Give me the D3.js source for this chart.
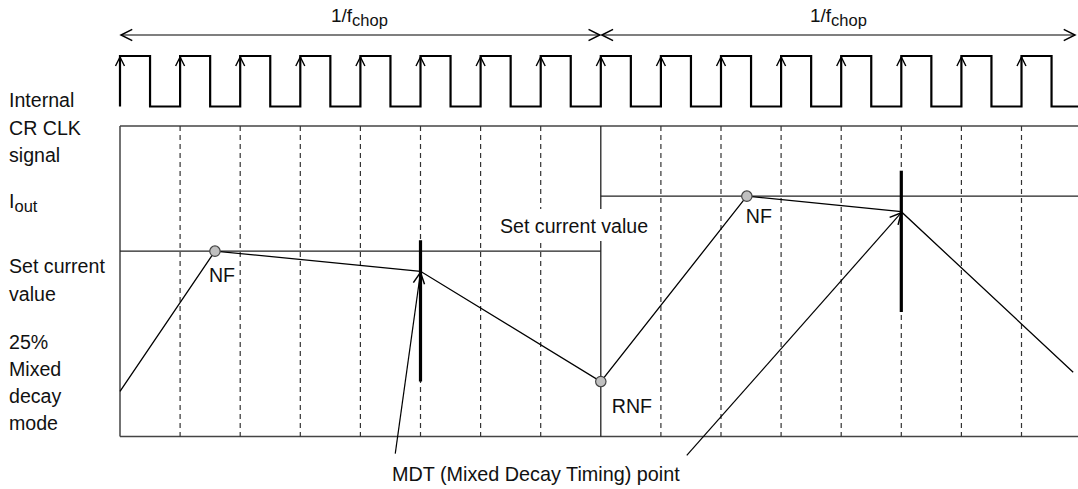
<!DOCTYPE html>
<html>
<head>
<meta charset="utf-8">
<script src="https://cdn.jsdelivr.net/npm/d3@7"></script>
<style>
  body { margin: 0; background: #fff; }
  svg text { font-family: "Liberation Sans", Arial, sans-serif; fill: #111; }
</style>
</head>
<body>
<div id="chart"></div>
<script>
// time in clock periods, current in arbitrary units (0 = bottom of frame, 100 = top)
const risingEdges = [0, 1, 2, 3, 4, 5, 6, 7, 8, 9, 10, 11, 12, 13, 14, 15]
const gridLines = [1, 2, 3, 4, 5, 6, 7, 9, 10, 11, 12, 13, 14, 15]
const chopBoundary = 8
const chopSpans = [[0, 8], [8, 16]]
const setCurrent = [
  { from: 0, to: 8, level: 59.7 },
  { from: 8, to: 16, level: 77.4 }
]
const currentWave = [
  { t: 0, i: 14.5 },
  { t: 1.58, i: 59.7 },
  { t: 5, i: 53.2 },
  { t: 8, i: 17.7 },
  { t: 10.43, i: 77.4 },
  { t: 13, i: 72.4 },
  { t: 15.86, i: 20.7 }
]
const noiseFilterPoints = [
  { t: 1.58, i: 59.7, label: 'NF', dx: -6, dy: 31 },
  { t: 8, i: 17.7, label: 'RNF', dx: 11, dy: 31 },
  { t: 10.43, i: 77.4, label: 'NF', dx: -1, dy: 27 }
]
const mdtBars = [
  { t: 5, top: 63.2, bottom: 17.7 },
  { t: 13, top: 85.6, bottom: 40.1 }
]
const mdtPointers = [
  { t0: 4.58, i0: -5.5, t1: 5, i1: 53.2 },
  { t0: 9.43, i0: -6.1, t1: 13, i1: 72.4 }
]
const leftLabels = [
  { text: 'Internal', y: 107 },
  { text: 'CR CLK', y: 135 },
  { text: 'signal', y: 162 },
  { text: 'I', sub: 'out', y: 208 },
  { text: 'Set current', y: 273 },
  { text: 'value', y: 301 },
  { text: '25%', y: 349 },
  { text: 'Mixed', y: 376 },
  { text: 'decay', y: 403 },
  { text: 'mode', y: 430 }
]

const W = 1078, H = 489
const svg = d3.select('#chart').append('svg')
  .attr('width', W).attr('height', H)

const x = d3.scaleLinear().domain([0, 16]).range([120, 1081.6])
const y = d3.scaleLinear().domain([0, 100]).range([436.5, 126])
const clk = d3.scaleLinear().domain([0, 1]).range([106.5, 56])

const defs = svg.append('defs')
defs.append('marker')
  .attr('id', 'arr')
  .attr('markerUnits', 'userSpaceOnUse')
  .attr('markerWidth', 20).attr('markerHeight', 20)
  .attr('viewBox', '-12 -8 16 16')
  .attr('refX', 0).attr('refY', 0)
  .attr('orient', 'auto-start-reverse')
  .append('path')
  .attr('d', 'M-9,-4.5 L0,0 L-9,4.5')
  .attr('fill', 'none').attr('stroke', '#000').attr('stroke-width', 1.2)

// frame
const frame = svg.append('g').attr('stroke', '#444').attr('stroke-width', 1.5)
frame.append('line').attr('x1', x(0)).attr('x2', W).attr('y1', y(100)).attr('y2', y(100))
frame.append('line').attr('x1', x(0)).attr('x2', W).attr('y1', y(0)).attr('y2', y(0))
frame.append('line').attr('x1', x(0)).attr('x2', x(0)).attr('y1', y(100)).attr('y2', y(0))

svg.append('g').selectAll('line').data(gridLines).join('line')
  .attr('x1', d => x(d)).attr('x2', d => x(d))
  .attr('y1', y(100)).attr('y2', y(0))
  .attr('stroke', '#333').attr('stroke-width', 1.2)
  .attr('stroke-dasharray', '5,4')

svg.append('line')
  .attr('x1', x(chopBoundary)).attr('x2', x(chopBoundary))
  .attr('y1', y(100)).attr('y2', y(0))
  .attr('stroke', '#222').attr('stroke-width', 1.3)

// set current value levels
svg.append('g').selectAll('line').data(setCurrent).join('line')
  .attr('x1', d => x(d.from)).attr('x2', d => Math.min(W, x(d.to)))
  .attr('y1', d => y(d.level)).attr('y2', d => y(d.level))
  .attr('stroke', '#222').attr('stroke-width', 1.2)

// label with white backing
svg.append('rect')
  .attr('x', 492).attr('y', 209).attr('width', 166).attr('height', 32)
  .attr('fill', '#fff')
svg.append('text').attr('x', 500).attr('y', 233)
  .attr('font-size', 19.6).text('Set current value')

// top period arrows
svg.append('g').selectAll('line').data(chopSpans).join('line')
  .attr('x1', d => x(d[0]) + 1).attr('x2', d => Math.min(W - 2, x(d[1])) - 1)
  .attr('y1', 35).attr('y2', 35)
  .attr('stroke', '#000').attr('stroke-width', 1.2)
  .attr('marker-start', 'url(#arr)').attr('marker-end', 'url(#arr)')

const chopText = svg.append('g').selectAll('text').data(chopSpans).join('text')
  .attr('x', d => (x(d[0]) + Math.min(W, x(d[1]))) / 2 - 1)
  .attr('y', 22).attr('font-size', 19).attr('text-anchor', 'middle')
chopText.append('tspan').text('1/f')
chopText.append('tspan').attr('dy', 4).attr('font-size', 16.5).text('chop')

// clock signal
const clkPts = []
risingEdges.forEach(t => {
  clkPts.push([t, 0], [t, 1], [t + 0.5, 1], [t + 0.5, 0])
})
clkPts.push([16, 0])
svg.append('path')
  .attr('d', d3.line().x(d => Math.min(W, x(d[0]))).y(d => clk(d[1]))(clkPts))
  .attr('fill', 'none').attr('stroke', '#000').attr('stroke-width', 2.2)
  .attr('stroke-linejoin', 'miter')

svg.append('g').selectAll('path').data(risingEdges).join('path')
  .attr('d', t => `M${x(t) - 4.5},${clk(1) + 10} L${x(t)},${clk(1) + 1} L${x(t) + 4.5},${clk(1) + 10}`)
  .attr('fill', 'none').attr('stroke', '#000').attr('stroke-width', 1.4)

// MDT thick bars
svg.append('g').selectAll('line').data(mdtBars).join('line')
  .attr('x1', d => x(d.t)).attr('x2', d => x(d.t))
  .attr('y1', d => y(d.top)).attr('y2', d => y(d.bottom))
  .attr('stroke', '#000').attr('stroke-width', 3.2)

// output current waveform
svg.append('path')
  .attr('d', d3.line().x(d => x(d.t)).y(d => y(d.i))(currentWave))
  .attr('fill', 'none').attr('stroke', '#000').attr('stroke-width', 1.3)

// MDT pointers
svg.append('g').selectAll('line').data(mdtPointers).join('line')
  .attr('x1', d => x(d.t0)).attr('y1', d => y(d.i0))
  .attr('x2', d => x(d.t1)).attr('y2', d => y(d.i1) + 1)
  .attr('stroke', '#000').attr('stroke-width', 1.2)
  .attr('marker-end', 'url(#arr)')

svg.append('text').attr('x', 392).attr('y', 481)
  .attr('font-size', 19.8).text('MDT (Mixed Decay Timing) point')

// NF / RNF points
const nf = svg.append('g').selectAll('g').data(noiseFilterPoints).join('g')
nf.append('circle')
  .attr('cx', d => x(d.t)).attr('cy', d => y(d.i)).attr('r', 5.2)
  .attr('fill', '#c0c0c0').attr('stroke', '#444').attr('stroke-width', 1.2)
nf.append('text')
  .attr('x', d => x(d.t) + d.dx).attr('y', d => y(d.i) + d.dy)
  .attr('font-size', 19.6).text(d => d.label)

// left labels
const ll = svg.append('g').selectAll('text').data(leftLabels).join('text')
  .attr('x', 9).attr('y', d => d.y).attr('font-size', 19.6)
ll.append('tspan').text(d => d.text)
ll.filter(d => d.sub).append('tspan').attr('dy', 4).attr('font-size', 16.5).text(d => d.sub)
</script>
</body>
</html>
